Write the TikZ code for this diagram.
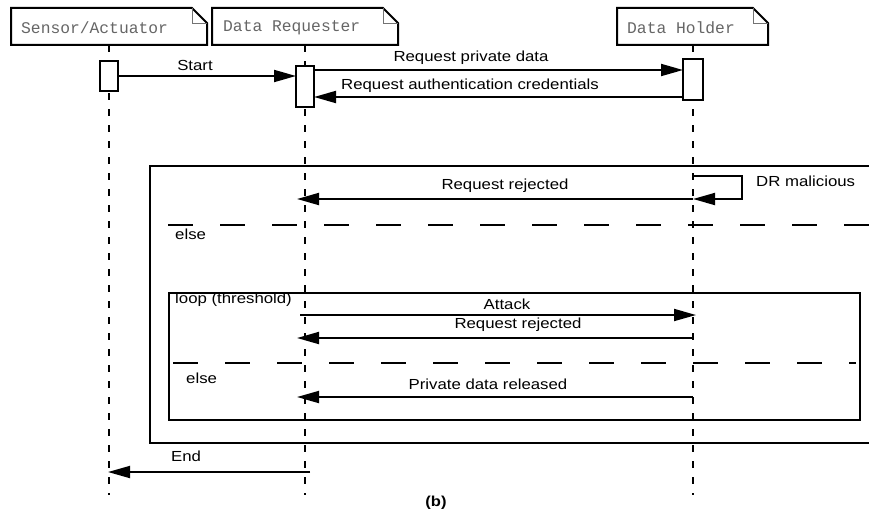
\documentclass[tikz,border=0pt]{standalone}
\usepackage{fontspec}
\setmainfont{Liberation Sans}[FakeStretch=1.15]
\newfontfamily\headfont{Liberation Mono}
\usetikzlibrary{arrows.meta}

\tikzset{
  msg/.style={line width=1.8pt, -{Triangle[length=22pt,width=12pt]}},
  lifeline/.style={line width=1.1pt, dash pattern=on 7pt off 9pt},
  frameline/.style={line width=2pt},
  sepline/.style={line width=2pt, dash pattern=on 25pt off 27pt},
  actbox/.style={draw, fill=white, line width=2pt, minimum width=18pt, inner sep=0pt, outer sep=0pt},
  lbl/.style={font=\fontsize{14.6}{16}\selectfont, inner sep=0pt},
  headtxt/.style={font=\headfont\fontsize{16.3}{18}\selectfont, text=black!60, inner sep=0pt, anchor=west},
  headbox/.style={draw, fill=white, line width=2pt, line join=miter},
  foldline/.style={draw=black!55, line width=0.7pt},
}

\begin{document}
\begin{tikzpicture}[x=1pt, y=-1pt]
\useasboundingbox (0,0) rectangle (869,519);
\clip (0,0) rectangle (869,519);

% lifeline positions
\coordinate (S) at (109,45);
\coordinate (R) at (305,45);
\coordinate (H) at (693,45);
\coordinate (bottom) at (0,495);

\draw[lifeline] (S) -- (S |- bottom);
\draw[lifeline] (R) -- (R |- bottom);
\draw[lifeline] (H) -- (H |- bottom);

% participant heads: notes with a folded top-right corner
\path[headbox] (11,8) -- (192,8) -- (207,23) -- (207,45) -- (11,45) -- cycle;
\path[foldline] (192,8) -- (192,23) -- (207,23);
\node[headtxt] (hS) at (21,28) {Sensor/Actuator};

\path[headbox] (212,8) -- (383,8) -- (398,23) -- (398,45) -- (212,45) -- cycle;
\path[foldline] (383,8) -- (383,23) -- (398,23);
\node[headtxt] (hR) at (223,28) {Data Requester};

\path[headbox] (617,8) -- (753,8) -- (768,23) -- (768,45) -- (617,45) -- cycle;
\path[foldline] (753,8) -- (753,23) -- (768,23);
\node[headtxt] (hH) at (627,28) {Data Holder};

% activation bars
\node[actbox, minimum height=30pt] (aS) at (109,76) {};
\node[actbox, minimum height=41pt] (aR) at (305,86.5) {};
\node[actbox, minimum width=20pt, minimum height=41pt] (aH) at (693,79.5) {};

% message rows
\coordinate (m1) at (0,70);
\coordinate (m2) at (0,97);
\coordinate (s1) at (0,176);
\coordinate (r1) at (0,199);
\coordinate (a1) at (0,315);
\coordinate (r2) at (0,338);
\coordinate (p1) at (0,397);
\coordinate (end) at (0,472);

% opening exchange
\draw[msg] (aS.east) -- (aS.east -| aR.west);
\node[lbl] (tStart) at (195,65) {Start};
\draw[msg] (aR.east |- m1) -- (aH.west |- m1);
\node[lbl] (tReq) at (471,58) {Request private data};
\draw[msg] (aH.west |- m2) -- (aR.east |- m2);
\node[lbl] (tAuth) at (470,86) {Request authentication credentials};

% alt fragment
\draw[frameline] (880,166) -- (150,166) -- (150,443) -- (880,443);
\coordinate (selfR) at (742,0);
\draw[msg] (H |- s1) -- (selfR |- s1) -- (selfR |- r1) -- (H |- r1);
\node[lbl, anchor=west] (tMal) at (756,181) {DR malicious};
\draw[msg] (H |- r1) -- ([xshift=-8pt]R |- r1);
\node[lbl] (tRej1) at (505,186) {Request rejected};
\draw[sepline] (168,225) -- (880,225);
\node[lbl, anchor=west] (tElse1) at (175,234) {else};

% loop fragment
\draw[frameline] (169,293) rectangle (860,420);
\node[lbl, anchor=west] (tLoop) at (175,300) {loop (threshold)};
\draw[msg] ([xshift=-5pt]R |- a1) -- ([xshift=3pt]H |- a1);
\node[lbl] (tAtk) at (507,304) {Attack};
\draw[msg] (H |- r2) -- ([xshift=-8pt]R |- r2);
\node[lbl] (tRej2) at (518,325) {Request rejected};
\draw[sepline] (173,363) -- (856,363);
\node[lbl, anchor=west] (tElse2) at (186,378) {else};
\draw[msg] (H |- p1) -- ([xshift=-8pt]R |- p1);
\node[lbl] (tPriv) at (488,384) {Private data released};

% closing message
\draw[msg] ([xshift=5pt]R |- end) -- ([xshift=-1pt]S |- end);
\node[lbl] (tEnd) at (186,456) {End};

\node[lbl, font=\bfseries\fontsize{14.4}{16}\selectfont] (cap) at (436,503) {(b)};
\end{tikzpicture}
\end{document}
